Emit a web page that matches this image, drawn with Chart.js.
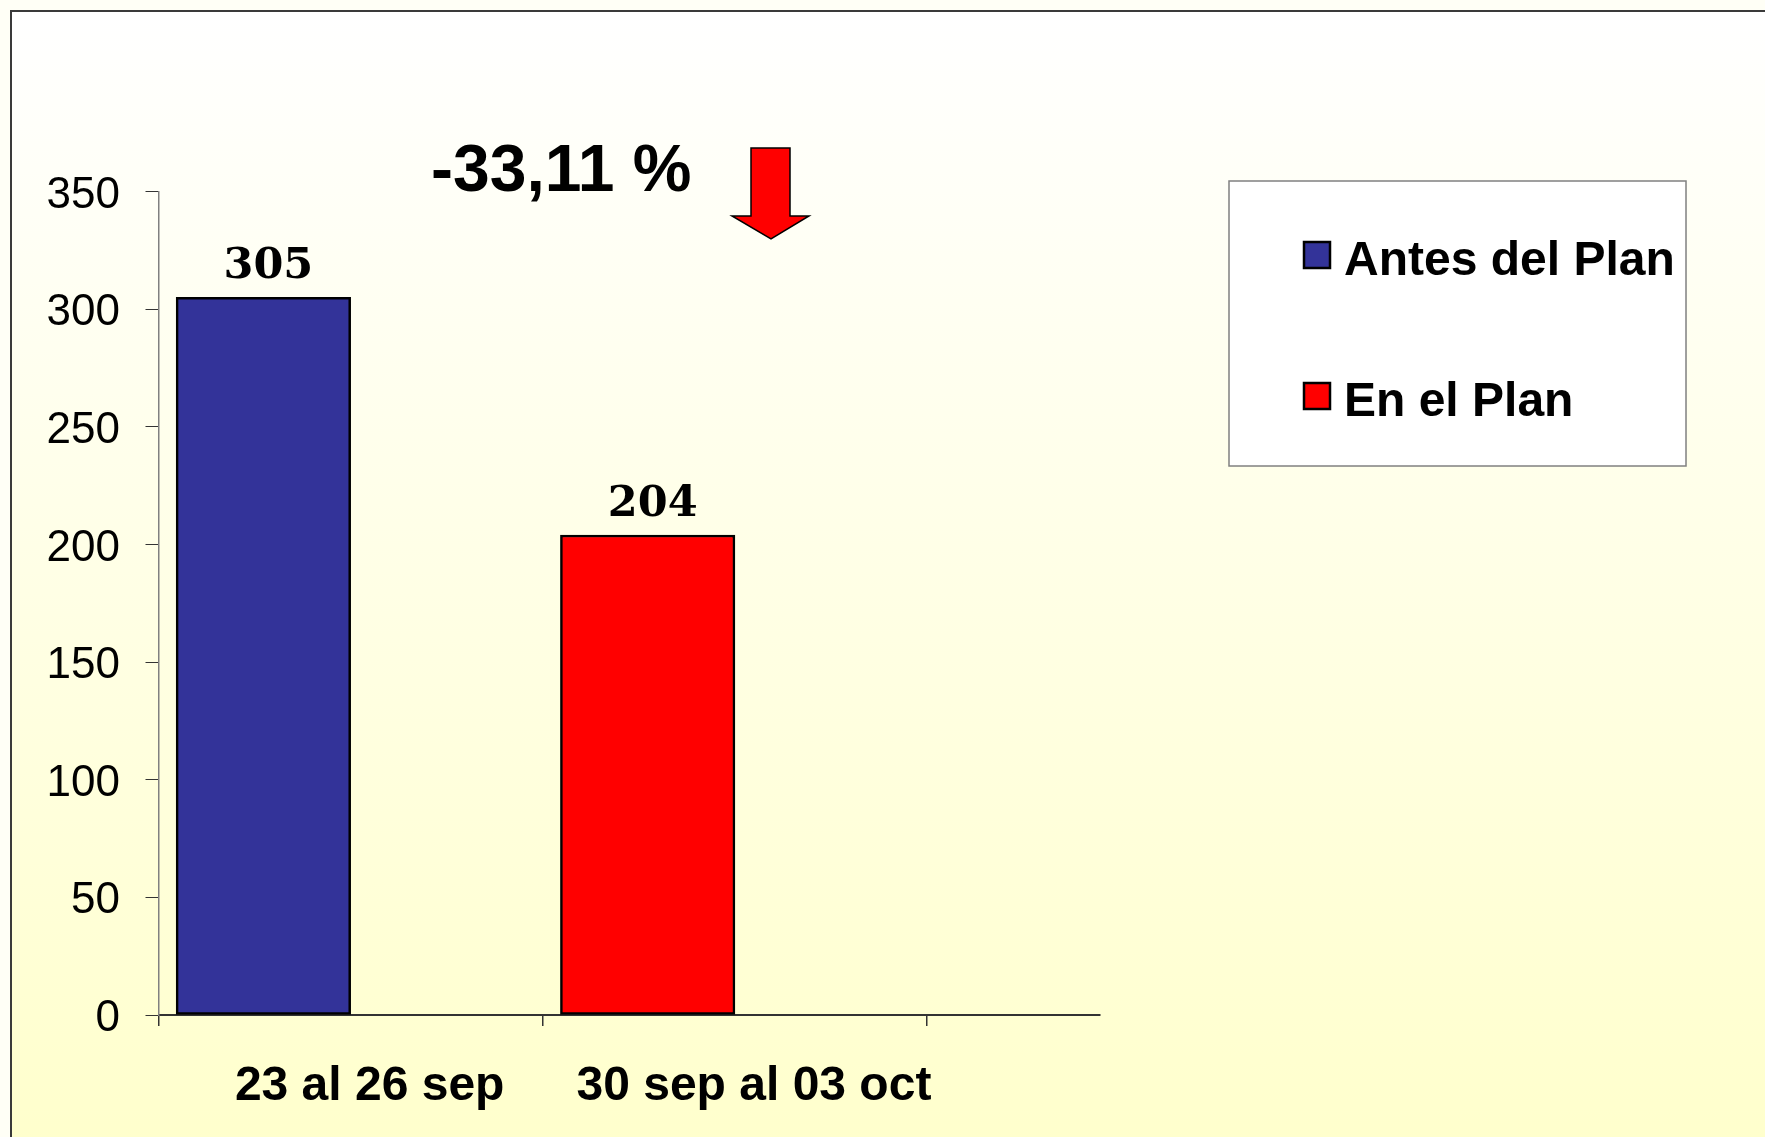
<!DOCTYPE html>
<html>
<head>
<meta charset="utf-8">
<script src="https://cdn.jsdelivr.net/npm/chart.js@4.4.0/dist/chart.umd.min.js"></script>
<style>
  html, body { margin: 0; padding: 0; background: #fffff6; overflow: hidden; }
  #frame {
    position: absolute; left: 10px; top: 10px; width: 1765px; height: 1137px;
    border-top: 2px solid #3a3a3a; border-left: 2px solid #3a3a3a;
    background: linear-gradient(#ffffff, #ffffcc);
  }
  #wrap { position: absolute; left: 0; top: 0; width: 1765px; height: 1137px; }
</style>
</head>
<body>
<div id="frame"></div>
<div id="wrap"><canvas id="chart" width="1765" height="1137"></canvas></div>
<script>
const categories = ["23 al 26 sep", "30 sep al 03 oct"]
const values = [305, 204]
const barColors = ["#333399", "#ff0000"]
const seriesLabels = ["Antes del Plan", "En el Plan"]
const seriesColors = ["#333399", "#ff0000"]
const yMax = 350
const yStep = 50
const changeLabel = "-33,11 %"

// bars sit in the middle of each category slot on a linear index axis
const points = categories.map((c, i) => ({ x: i + 0.5, y: values[i] }))
const emptyPoints = categories.map((c, i) => ({ x: i + 0.5, y: null }))
const xTickValues = categories.flatMap((c, i) => [i, i + 0.5]).concat(categories.length)

const valueLabels = {
  id: "valueLabels",
  afterDatasetsDraw(chart) {
    const ctx = chart.ctx
    const meta = chart.getDatasetMeta(0)
    ctx.save()
    ctx.font = "bold 43px 'DejaVu Serif'"
    ctx.fillStyle = "#000"
    ctx.textAlign = "center"
    ctx.textBaseline = "alphabetic"
    meta.data.forEach((bar, i) => {
      ctx.fillText(String(values[i]), bar.x + 5, bar.y - 19)
    })
    ctx.restore()
  },
}

const extras = {
  id: "extras",
  afterDraw(chart) {
    const ctx = chart.ctx
    ctx.save()

    // change annotation
    ctx.font = "bold 66px 'Liberation Sans', Arial"
    ctx.fillStyle = "#000"
    ctx.textAlign = "left"
    ctx.textBaseline = "alphabetic"
    ctx.fillText(changeLabel, 431, 191)

    // down arrow
    ctx.beginPath()
    ctx.moveTo(751, 148)
    ctx.lineTo(790, 148)
    ctx.lineTo(790, 216)
    ctx.lineTo(809, 216)
    ctx.lineTo(771, 239)
    ctx.lineTo(732, 216)
    ctx.lineTo(751, 216)
    ctx.closePath()
    ctx.fillStyle = "#ff0000"
    ctx.fill()
    ctx.lineWidth = 1.5
    ctx.strokeStyle = "#000"
    ctx.stroke()

    // legend box
    ctx.fillStyle = "#fff"
    ctx.fillRect(1229, 181, 457, 285)
    ctx.lineWidth = 1.5
    ctx.strokeStyle = "#808080"
    ctx.strokeRect(1229, 181, 457, 285)

    ctx.font = "bold 48px 'Liberation Sans', Arial"
    seriesLabels.forEach((label, i) => {
      const y = 242 + i * 141
      ctx.fillStyle = seriesColors[i]
      ctx.fillRect(1304, y, 26, 26)
      ctx.lineWidth = 2.5
      ctx.strokeStyle = "#000"
      ctx.strokeRect(1304, y, 26, 26)
      ctx.fillStyle = "#000"
      ctx.fillText(label, 1344, y + 33)
    })

    ctx.restore()
  },
}

new Chart(document.getElementById("chart"), {
  type: "bar",
  data: {
    datasets: [
      { label: seriesLabels[0], data: points, backgroundColor: barColors },
      { label: seriesLabels[1], data: emptyPoints, backgroundColor: seriesColors[1] },
    ],
  },
  options: {
    responsive: false,
    animation: false,
    barThickness: 174.5,
    borderColor: "#000",
    borderWidth: 2.5,
    borderSkipped: false,
    layout: { padding: { top: 191.5, right: 665, bottom: 0, left: 0 } },
    plugins: {
      legend: { display: false },
      tooltip: { enabled: false },
    },
    scales: {
      x: {
        type: "linear",
        min: 0,
        max: 2.45,
        offset: false,
        afterBuildTicks: (scale) => { scale.ticks = xTickValues.map(v => ({ value: v })) },
        afterFit: (scale) => { scale.height = 122 },
        grid: {
          drawOnChartArea: false,
          offset: false,
          tickLength: 11,
          lineWidth: 1.5,
          color: (c) => (c.tick && c.tick.value % 1 === 0 ? "#333" : "rgba(0,0,0,0)"),
        },
        border: { color: "#333", width: 2 },
        ticks: {
          autoSkip: false,
          maxRotation: 0,
          padding: 32,
          labelOffset: 19,
          color: "#000",
          font: { family: "'Liberation Sans', Arial", size: 48, weight: "bold" },
          callback: (v) => {
            const i = v - 0.5
            return Number.isInteger(i) ? categories[i] : ""
          },
        },
      },
      y: {
        min: 0,
        max: yMax,
        afterFit: (scale) => { scale.width = 158.5 },
        grid: { drawOnChartArea: false, tickLength: 13, color: "#333", lineWidth: 1 },
        border: { color: "#808080", width: 1.5 },
        ticks: {
          stepSize: yStep,
          padding: 25.5,
          labelOffset: 4,
          color: "#000",
          font: { family: "'Liberation Sans', Arial", size: 44 },
        },
      },
    },
  },
  plugins: [valueLabels, extras],
})
</script>
</body>
</html>
